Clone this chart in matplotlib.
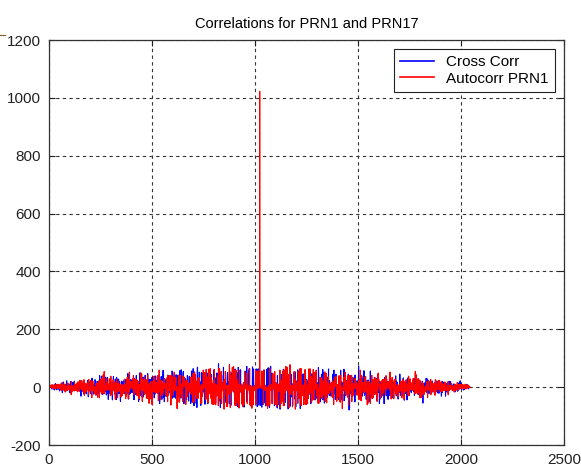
import matplotlib
matplotlib.use('Agg')
import matplotlib.pyplot as plt
import numpy as np
from matplotlib.lines import Line2D

# C/A code settings (GPS L1): G2 phase-selector taps for each satellite
code_len = 1023
g1_fb = [3, 10]
g2_fb = [2, 3, 6, 8, 9, 10]
prn1_taps = [2, 6]
prn17_taps = [1, 4]


def ca_code(taps):
    g1 = [1] * 10
    g2 = [1] * 10
    out = []
    for _ in range(code_len):
        g2i = g2[taps[0] - 1] ^ g2[taps[1] - 1]
        out.append(g1[9] ^ g2i)
        f1 = 0
        for t in g1_fb:
            f1 ^= g1[t - 1]
        f2 = 0
        for t in g2_fb:
            f2 ^= g2[t - 1]
        g1 = [f1] + g1[:9]
        g2 = [f2] + g2[:9]
    return 1 - 2 * np.array(out)


prn1 = ca_code(prn1_taps)
prn17 = ca_code(prn17_taps)

# full (aperiodic) correlations, same ordering as xcorr
cross_corr = np.correlate(prn1, prn17, 'full')
auto_corr = np.correlate(prn1, prn1, 'full')
idx = np.arange(1, len(cross_corr) + 1)

plt.rcParams['font.family'] = ['Liberation Sans', 'DejaVu Sans']
plt.rcParams['axes.unicode_minus'] = False

fig = plt.figure(figsize=(5.81, 4.66), dpi=100)
ax = fig.add_axes([0.0843, 0.045, 0.8864, 0.869])

ax.plot(idx, cross_corr, color=(0, 0, 1), lw=0.8, label='Cross Corr')
ax.plot(idx, auto_corr, color=(1, 0, 0), lw=0.8, label='Autocorr PRN1')

ax.set_xlim(0, 2500)
ax.set_ylim(-200, 1200)
ax.set_xticks(np.arange(0, 2501, 500))
ax.set_yticks(np.arange(-200, 1201, 200))
ax.grid(True, color='#333333', linestyle=(0, (3, 3)), linewidth=0.8)
ax.tick_params(direction='in', top=True, right=True, length=4, width=0.8,
               labelsize=11, colors='#222222', pad=6)
for s in ax.spines.values():
    s.set_linewidth(0.9)
    s.set_color('#333333')

ax.set_title('Correlations for PRN1 and PRN17', fontsize=10.5, pad=9)

leg = ax.legend(loc='upper right', fontsize=11, fancybox=False,
                framealpha=1, edgecolor='#222222', handlelength=2.2,
                handletextpad=0.8, borderaxespad=0.6, labelspacing=0.15)
leg.get_frame().set_linewidth(0.8)
for h in leg.get_lines():
    h.set_linewidth(1.2)

# small mark at the top-left edge
fig.add_artist(Line2D([0, 0.009], [0.924, 0.924], color='#8B5A2B', lw=0.8))

fig.savefig('out.png', dpi=100)
